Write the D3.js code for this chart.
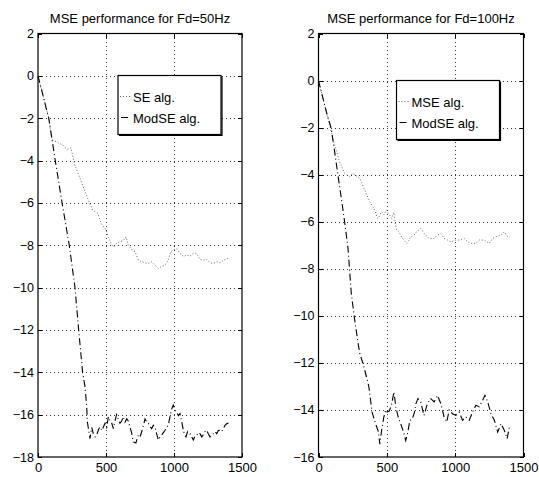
<!doctype html>
<html>
<head>
  <meta charset="utf-8">
  <script src="https://cdnjs.cloudflare.com/ajax/libs/d3/7.8.5/d3.min.js"></script>
  <style>
    body { margin: 0; background: #fff; }
    svg { display: block; }
    text { font-family: "Liberation Sans", Arial, Helvetica, sans-serif; fill: #000; }
    .axis path.domain { display: none; }
    .axis line { stroke: #000; shape-rendering: crispEdges; }
    .grid line { stroke: #333; stroke-dasharray: 1,3; shape-rendering: crispEdges; }
  </style>
</head>
<body>
  <svg width="539" height="477"></svg>
  <script>
    // tick values
    var xTicks = [0, 500, 1000, 1500];
    var yTicks50 = [2, 0, -2, -4, -6, -8, -10, -12, -14, -16, -18];
    var yTicks100 = [2, 0, -2, -4, -6, -8, -10, -12, -14, -16];

    // Fd = 50Hz
    var se50 = [[0,0],[40,-1],[79,-2],[103,-3.03],[132,-3.1],[160,-3.2],[181,-3.26],[200,-3.4],[218,-3.47],[243,-3.4],
      [267,-4.13],[304,-4.76],[341,-5.39],[365,-5.78],[402,-6.34],[439,-6.49],[468,-7.0],[493,-7.2],[517,-7.6],[542,-7.99],
      [559,-8.07],[578,-7.91],[603,-7.83],[627,-7.79],[647,-7.6],[664,-7.99],[689,-8.2],[713,-8.3],[738,-8.7],[762,-8.78],
      [787,-8.83],[811,-8.86],[836,-8.78],[860,-8.94],[885,-9.09],[909,-9.0],[934,-8.94],[958,-8.7],[975,-8.3],[995,-8.23],
      [1020,-8.16],[1044,-8.38],[1069,-8.54],[1093,-8.46],[1118,-8.51],[1142,-8.38],[1167,-8.38],[1191,-8.67],[1216,-8.7],
      [1240,-8.67],[1265,-8.83],[1289,-8.86],[1314,-8.78],[1338,-8.83],[1363,-8.7],[1387,-8.67],[1400,-8.57]];
    var modse50 = [[0,0],[79,-2],[127,-4],[177,-6],[230,-8],[272,-10],[299,-12],[328,-14],[346,-14.7],[358,-15.6],
      [363,-16.34],[382,-17.13],[395,-16.6],[407,-16.9],[420,-17.05],[431,-16.97],[445,-16.7],[456,-16.58],[470,-16.75],
      [493,-16.4],[505,-16.6],[517,-16.1],[530,-16.3],[542,-16.4],[554,-16.66],[566,-16.3],[578,-16.0],[590,-16.2],
      [603,-16.4],[615,-16.3],[627,-16.1],[640,-16.35],[652,-16.2],[664,-16.3],[676,-16.58],[690,-16.9],[701,-17.29],
      [720,-17.34],[730,-17.1],[738,-16.97],[750,-17.05],[762,-16.82],[775,-16.5],[787,-16.2],[800,-16.35],[811,-16.4],
      [823,-16.55],[836,-16.66],[848,-16.5],[860,-16.58],[872,-16.9],[885,-17.2],[897,-17.05],[909,-16.97],[922,-16.85],
      [934,-16.74],[946,-16.6],[958,-16.5],[975,-15.95],[985,-15.7],[995,-15.55],[1007,-15.8],[1019,-15.87],[1032,-16.05],
      [1044,-15.95],[1056,-16.3],[1069,-16.74],[1078,-16.95],[1088,-17.05],[1100,-16.8],[1118,-16.9],[1130,-17.05],
      [1142,-17.2],[1155,-17.0],[1167,-16.97],[1180,-16.85],[1191,-16.9],[1204,-17.05],[1216,-16.95],[1228,-16.8],
      [1240,-16.74],[1252,-16.9],[1265,-17.05],[1277,-16.95],[1289,-16.9],[1302,-16.8],[1314,-16.9],[1326,-16.75],
      [1338,-16.74],[1350,-16.8],[1363,-16.66],[1375,-16.5],[1387,-16.43],[1400,-16.4]];

    // Fd = 100Hz
    var mse100 = [[0,0],[30,-0.7],[57,-1.32],[81,-1.89],[118,-2.74],[154,-3.45],[191,-3.94],[228,-4.09],[250,-3.95],
      [265,-4.0],[301,-4.15],[338,-4.65],[375,-5.15],[412,-5.5],[429,-5.83],[437,-5.86],[461,-5.57],[480,-5.7],[498,-5.5],
      [535,-5.86],[551,-5.6],[571,-6.35],[590,-6.45],[608,-6.64],[625,-6.78],[645,-6.92],[660,-6.8],[674,-6.64],[699,-6.57],
      [718,-6.43],[735,-6.35],[748,-6.28],[772,-6.5],[790,-6.6],[809,-6.71],[846,-6.71],[870,-6.57],[895,-6.5],[919,-6.71],
      [944,-6.78],[968,-6.85],[1005,-6.78],[1029,-6.78],[1066,-6.71],[1091,-6.85],[1115,-6.92],[1152,-6.92],[1176,-6.78],
      [1213,-6.78],[1250,-6.92],[1274,-6.71],[1299,-6.64],[1336,-6.57],[1360,-6.43],[1385,-6.64],[1400,-6.64]];
    var modse100 = [[0,0],[57,-1.32],[93,-2.03],[118,-3.02],[142,-4.01],[167,-5.0],[191,-6.0],[216,-7.13],[228,-8.1],
      [240,-9.05],[265,-10.18],[290,-11.17],[302,-11.6],[326,-12.03],[351,-12.6],[368,-13.0],[375,-13.3],[392,-14.09],
      [417,-14.58],[437,-14.9],[449,-15.45],[461,-14.9],[478,-14.3],[492,-14.0],[502,-14.09],[517,-14.05],[534,-13.8],
      [552,-13.23],[566,-13.87],[583,-14.3],[601,-14.58],[620,-14.9],[638,-15.3],[650,-15.05],[669,-14.44],[687,-14.37],
      [700,-14.15],[713,-13.73],[728,-13.52],[748,-13.66],[772,-14.23],[797,-13.73],[821,-13.52],[846,-13.66],[870,-13.38],
      [895,-13.73],[919,-14.3],[939,-14.51],[956,-14.0],[980,-14.16],[1005,-14.23],[1029,-14.09],[1054,-14.44],[1078,-14.3],
      [1103,-14.44],[1127,-14.09],[1152,-13.8],[1176,-13.87],[1201,-13.59],[1218,-13.38],[1238,-13.66],[1262,-14.16],
      [1287,-14.44],[1311,-14.94],[1336,-14.58],[1360,-14.87],[1380,-15.22],[1397,-14.73]];

    var svg = d3.select("svg");
    svg.append("rect").attr("width", 539).attr("height", 477).attr("fill", "#fff");

    var fmt = d => (d < 0 ? "\u2212" : "") + Math.abs(d);

    function panel(cfg) {
      var x = d3.scaleLinear().domain([0, 1500]).range([cfg.left, cfg.right]);
      var y = d3.scaleLinear().domain(cfg.yDomain).range([cfg.top, cfg.bottom]);
      var g = svg.append("g");

      // dotted grid
      var grid = g.append("g").attr("class", "grid");
      grid.selectAll(".gy").data(cfg.yTicks.slice(1, -1)).enter().append("line")
        .attr("x1", cfg.left).attr("x2", cfg.right)
        .attr("y1", d => Math.round(y(d)) + 0.5).attr("y2", d => Math.round(y(d)) + 0.5);
      grid.selectAll(".gx").data(xTicks.slice(1, -1)).enter().append("line")
        .attr("y1", cfg.top).attr("y2", cfg.bottom)
        .attr("x1", d => Math.round(x(d)) + 0.5).attr("x2", d => Math.round(x(d)) + 0.5);

      // axes, ticks inside like matlab
      g.append("g").attr("class", "axis").attr("transform", "translate(" + cfg.left + ",0)")
        .call(d3.axisLeft(y).tickValues(cfg.yTicks).tickSize(-4).tickPadding(4).tickFormat(fmt))
        .selectAll("text").style("font-size", "12.5px");
      g.append("g").attr("class", "axis").attr("transform", "translate(0," + cfg.bottom + ")")
        .call(d3.axisBottom(x).tickValues(xTicks).tickSize(-4).tickPadding(6).tickFormat(fmt))
        .selectAll("text").style("font-size", "13px");
      g.append("g").attr("class", "axis").attr("transform", "translate(" + cfg.right + ",0)")
        .call(d3.axisRight(y).tickValues(cfg.yTicks).tickSize(-4).tickFormat(""));
      g.append("g").attr("class", "axis").attr("transform", "translate(0," + cfg.top + ")")
        .call(d3.axisTop(x).tickValues(xTicks).tickSize(-4).tickFormat(""));

      g.append("rect").attr("x", cfg.left).attr("y", cfg.top)
        .attr("width", cfg.right - cfg.left).attr("height", cfg.bottom - cfg.top)
        .attr("fill", "none").attr("stroke", "#000").attr("stroke-width", 1.2);

      var line = d3.line().x(d => x(d[0])).y(d => y(d[1]));
      g.append("path").datum(cfg.series[0]).attr("d", line)
        .attr("fill", "none").attr("stroke", "#666").attr("stroke-width", 1)
        .attr("stroke-dasharray", "1,2");
      g.append("path").datum(cfg.series[1]).attr("d", line)
        .attr("fill", "none").attr("stroke", "#000").attr("stroke-width", 1.1)
        .attr("stroke-dasharray", "7,3,1,3");

      g.append("text").attr("x", (cfg.left + cfg.right) / 2).attr("y", 22.5)
        .attr("text-anchor", "middle").style("font-size", "13px").text(cfg.title);

      // legend
      var lx = cfg.left + cfg.legend[0], ly = cfg.top + cfg.legend[1], lw = 103, lh = 59;
      var leg = g.append("g");
      leg.append("rect").attr("x", lx).attr("y", ly).attr("width", lw).attr("height", lh)
        .attr("fill", "#fff").attr("stroke", "#000").attr("stroke-width", 1.2);
      leg.append("path").attr("d", "M" + (lx + 1) + "," + (ly + lh + 1) + "H" + (lx + lw + 1) + "V" + (ly + 1))
        .attr("fill", "none").attr("stroke", "#000").attr("stroke-width", 1.2);
      leg.append("line").attr("x1", lx + 2).attr("x2", lx + 14).attr("y1", ly + 21).attr("y2", ly + 21)
        .attr("stroke", "#666").attr("stroke-dasharray", "1,2");
      leg.append("line").attr("x1", lx + 3).attr("x2", lx + 13).attr("y1", ly + 42).attr("y2", ly + 42)
        .attr("stroke", "#000").attr("stroke-dasharray", "7,3,1,3");
      leg.append("text").attr("x", lx + 15).attr("y", ly + 26).style("font-size", "13px").text(cfg.labels[0]);
      leg.append("text").attr("x", lx + 15).attr("y", ly + 47).style("font-size", "13px").text(cfg.labels[1]);
    }

    panel({left: 38, right: 242, top: 33.5, bottom: 457, yDomain: [2, -18], yTicks: yTicks50,
      title: "MSE performance for Fd=50Hz", series: [se50, modse50],
      labels: ["SE alg.", "ModSE alg."], legend: [80, 42]});
    panel({left: 318.5, right: 523.5, top: 33.5, bottom: 457, yDomain: [2, -16], yTicks: yTicks100,
      title: "MSE performance for Fd=100Hz", series: [mse100, modse100],
      labels: ["MSE alg.", "ModSE alg."], legend: [78, 47]});
  </script>
</body>
</html>
